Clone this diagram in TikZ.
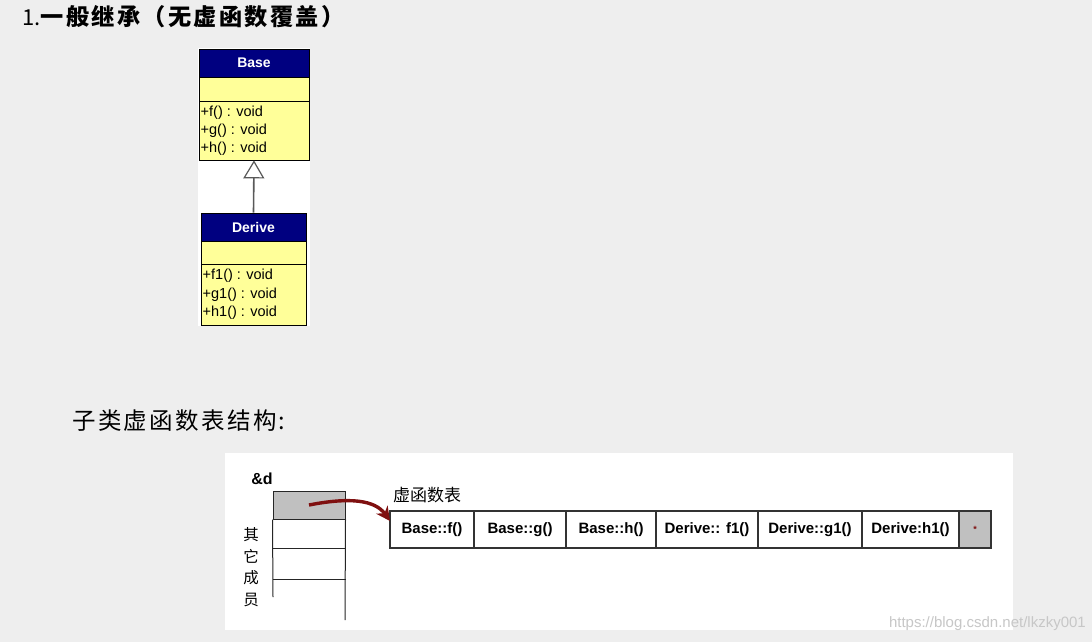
\documentclass[tikz,border=0pt]{standalone}
\usepackage{fontspec}
\setmainfont{Liberation Sans}
\newfontfamily\cjk{Noto Sans CJK SC}
\newfontfamily\cjkls[LetterSpace=10]{Noto Sans CJK SC}
\usetikzlibrary{arrows.meta}
\definecolor{bg}{HTML}{EEEEEE}
\definecolor{navy}{HTML}{000080}
\definecolor{umlyellow}{HTML}{FFFF99}
\definecolor{arrowred}{HTML}{7F1010}
\definecolor{cellgray}{HTML}{C0C0C0}
\tikzset{
  umlhead/.style={draw=black, line width=0.8pt, fill=navy, text=white, font=\fontsize{14}{15}\selectfont\bfseries, inner sep=0pt},
  umlbody/.style={draw=black, line width=0.8pt, fill=umlyellow, inner sep=0pt},
  method/.style={anchor=west, inner sep=0pt, font=\fontsize{14.5}{16}\selectfont},
  cell/.style={draw=black!80, line width=1.1pt, fill=white, minimum height=37pt, inner sep=0pt, font=\fontsize{15}{17}\selectfont\bfseries},
  memline/.style={draw=black!85, line width=1pt},
}
\begin{document}
\begin{tikzpicture}[x=1pt,y=-1pt]
\useasboundingbox (0,0) rectangle (1092,642);
\fill[bg] (0,0) rectangle (1092,642);
% Title
\node[anchor=west, inner sep=0pt] (title) at (22,17) {\fontsize{22}{24}\selectfont\cjk 1.\fontsize{23.2}{25}\selectfont\cjkls\bfseries 一般继承（无虚函数覆盖）};
% UML picture
\fill[white] (198,48) rectangle (310,326);
\node[umlhead, minimum width=110pt, minimum height=28pt] (bh) at (254,63) {Base};
\node[umlbody, minimum width=110pt, minimum height=24pt] (be) at (254,89) {};
\node[umlbody, minimum width=110pt, minimum height=59pt] (bm) at (254,130.5) {};
\node[method] (bf) at (200.5,112.5) {+f() : void};
\node[method] (bg) at (200.5,130.5) {+g() : void};
\node[method] (bhm) at (200.5,148.5) {+h() : void};
\node[umlhead, minimum width=105pt, minimum height=28pt] (dh) at (253.5,227) {Derive};
\node[umlbody, minimum width=105pt, minimum height=23pt] (de) at (253.5,252.5) {};
\node[umlbody, minimum width=105pt, minimum height=61pt] (dm) at (253.5,294.5) {};
\node[method] (df) at (202.5,275.5) {+f1() : void};
\node[method] (dg) at (202.5,294.5) {+g1() : void};
\node[method] (dhm) at (202.5,312.5) {+h1() : void};
\draw[black!65, line width=1.6pt, -{Triangle[open, width=21pt, length=18pt, fill=white, line width=1.2pt]}] (dh.north) -- (bm.south);
% Subtitle
\node[anchor=west, inner sep=0pt] (sub) at (72,421) {\fontsize{23.5}{25}\selectfont\cjkls 子类虚函数表结构:};
% Lower picture
\fill[white] (225,453) rectangle (1013,630);
\node[inner sep=0pt, font=\fontsize{16}{18}\selectfont\bfseries] (addr) at (262,479) {\&d};
\node[draw=black!85, line width=1pt, fill=cellgray, minimum width=72pt, minimum height=28pt, inner sep=0pt] (g0) at (309,505) {};
\coordinate (l1) at (273,548); \coordinate (r1) at (346,548);
\coordinate (l2) at (273,579); \coordinate (r2) at (346,579);
\coordinate (lb) at (273,597); \coordinate (rb) at (345,620);
\draw[memline] (g0.south west) -- (g0.south east);
\draw[memline] (l1) -- (r1);
\draw[memline] (l2) -- (r2);
\draw[memline] (g0.south west) -- (lb);
\draw[memline] (g0.south east) -- (rb);
\node[inner sep=0pt, align=center, font=\fontsize{15.5}{21.5}\selectfont\cjk] (other) at (251,567) {其\\它\\成\\员};
\node[anchor=west, inner sep=0pt, font=\fontsize{17}{19}\selectfont\cjk] (vtl) at (393,495) {虚函数表};
% vtable cells
\node[cell, minimum width=84pt] (c1) at (432,529.5) {Base::f()};
\node[cell, minimum width=92pt] (c2) at (520,529.5) {Base::g()};
\node[cell, minimum width=90pt] (c3) at (611,529.5) {Base::h()};
\node[cell, minimum width=102pt] (c4) at (707,529.5) {Derive:: f1()};
\node[cell, minimum width=104pt] (c5) at (810,529.5) {Derive::g1()};
\node[cell, minimum width=97pt] (c6) at (910.5,529.5) {Derive:h1()};
\node[cell, minimum width=32pt, fill=cellgray, font=\fontsize{9}{10}\selectfont\bfseries, text=arrowred] (c7) at (975,529.5) {*};
\coordinate (tip) at (390,521);
\draw[arrowred, line width=3.4pt, -{Stealth[length=14pt, width=14pt]}] (g0.center) .. controls (350,497) and (375,500) .. (tip);
% watermark
\node[anchor=east, inner sep=0pt, text=black!22, font=\fontsize{15}{17}\selectfont] (wm) at (1086,624) {https://blog.csdn.net/lkzky001};
\end{tikzpicture}
\end{document}
